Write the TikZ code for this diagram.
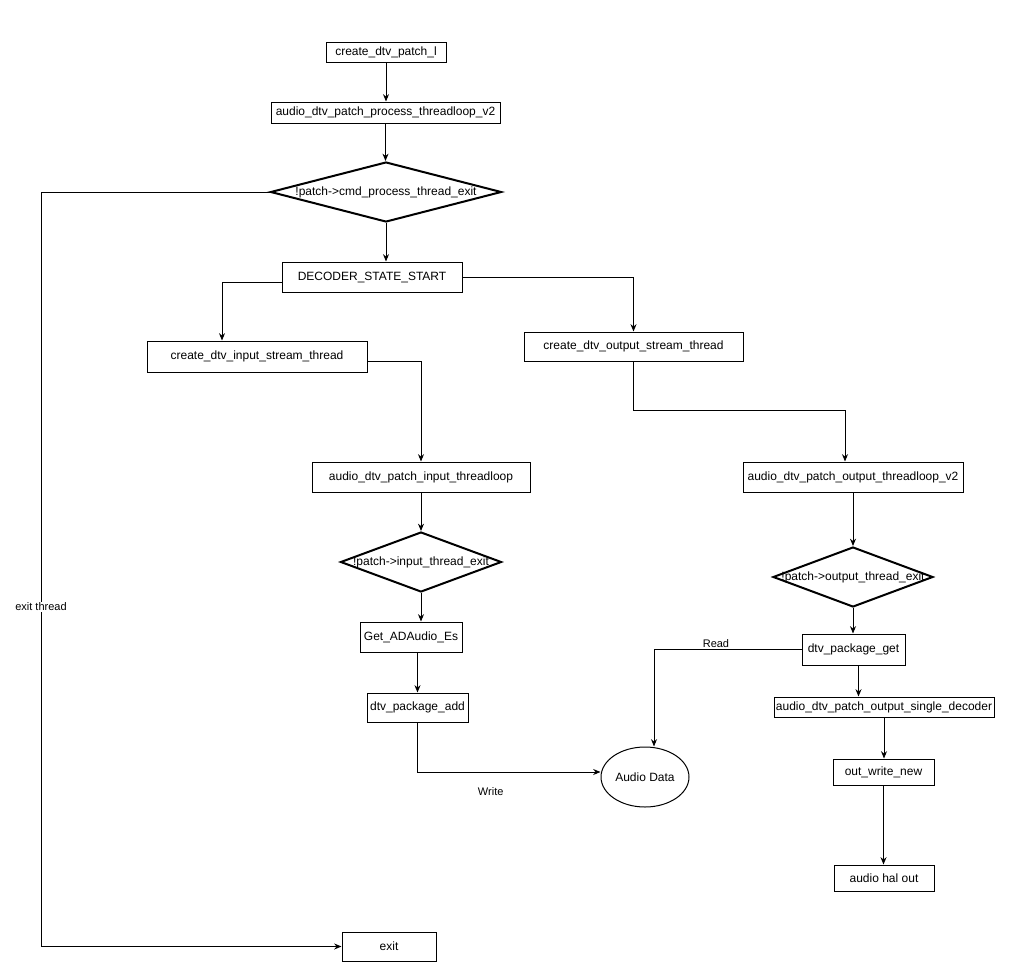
\documentclass[tikz,border=0pt]{standalone}
\usepackage{fontspec}
\setmainfont{Liberation Sans}
\usetikzlibrary{shapes.geometric,arrows.meta,positioning,calc}

\begin{document}
\begin{tikzpicture}[x=0.75pt, y=-0.75pt,
        font=\fontsize{9}{11}\selectfont,
        box/.style={draw, rectangle, line width=0.75pt, inner sep=0pt},
        decision/.style={draw, diamond, line width=1.5pt, inner sep=0pt},
        data/.style={draw, ellipse, line width=0.75pt, inner sep=0pt, minimum width=66pt, minimum height=45pt},
        arrow/.style={-{Stealth[length=5.5pt,width=4.5pt]}, line width=0.75pt},
        tag/.style={font=\fontsize{8.25}{10}\selectfont, inner sep=1pt}]
    \useasboundingbox (0,0) rectangle (1011,979);
    % main thread
    \node[box, minimum width=90pt, minimum height=15pt] (patch) at (386,52) {create\_dtv\_patch\_l};
    \node[box, minimum width=171.75pt, minimum height=15.75pt] (proc) at (385.5,112.5) {audio\_dtv\_patch\_process\_threadloop\_v2};
    \node[decision, minimum width=173.25pt, minimum height=45pt, label={center:!patch->cmd\_process\_thread\_exit}] (cmd) at (386,192) {};
    \node[box, minimum width=135pt, minimum height=22.5pt] (dec) at (372,277) {DECODER\_STATE\_START};
    \node[box, minimum width=70.5pt, minimum height=21.75pt] (exit) at (389,946.5) {exit};
    % input side
    \node[box, minimum width=165pt, minimum height=23.25pt] (instr) at (257,356.5) {create\_dtv\_input\_stream\_thread};
    \node[box, minimum width=163.5pt, minimum height=22.5pt] (itl) at (421,477) {audio\_dtv\_patch\_input\_threadloop};
    \node[decision, minimum width=120.75pt, minimum height=45pt, label={center:!patch->input\_thread\_exit}] (inexit) at (421,562) {};
    \node[box, minimum width=76.5pt, minimum height=22.5pt] (getes) at (411,637) {Get\_ADAudio\_Es};
    \node[box, minimum width=75.75pt, minimum height=21.75pt] (pkgadd) at (417.5,707.5) {dtv\_package\_add};
    \node[data] (aud) at (645,777) {Audio Data};
    % output side
    \node[box, minimum width=164.25pt, minimum height=21.75pt] (outstr) at (633.5,346.5) {create\_dtv\_output\_stream\_thread};
    \node[box, minimum width=165pt, minimum height=22.5pt] (otl) at (853,477) {audio\_dtv\_patch\_output\_threadloop\_v2};
    \node[decision, minimum width=120pt, minimum height=45pt, label={center:!patch->output\_thread\_exit}] (outexit) at (853,577) {};
    \node[box, minimum width=77.25pt, minimum height=23.25pt] (pkgget) at (853.5,649.5) {dtv\_package\_get};
    \node[box, minimum width=165pt, minimum height=15pt] (single) at (884,707) {audio\_dtv\_patch\_output\_single\_decoder};
    \node[box, minimum width=75.75pt, minimum height=19.5pt] (outw) at (883.5,772) {out\_write\_new};
    \node[box, minimum width=75pt, minimum height=19.5pt] (hal) at (884,878) {audio hal out};
    \coordinate (exitcorner) at (41,192);

    % connectors
    \draw[arrow] (patch.south) -- (patch.south |- proc.north);
    \draw[arrow] (proc.south) -- (proc.south |- cmd.north);
    \draw[arrow] (cmd.south) -- (cmd.south |- dec.north);
    \draw[arrow] (cmd.west) -- (exitcorner) |- node[tag, fill=white, pos=0.275] {exit thread} (exit.west);
    \draw[arrow] ([yshift=-3.75pt]dec.west) -| ([xshift=-26.25pt]instr.north);
    \draw[arrow] (dec.east) -| (outstr.north);
    \draw[arrow] ([yshift=-4pt]instr.east) -| (itl.north);
    \draw[arrow] (itl.south) -- (itl.south |- inexit.north);
    \draw[arrow] (inexit.south) -- (inexit.south |- getes.north);
    \draw[arrow] (pkgadd.north |- getes.south) -- (pkgadd.north);
    \draw[arrow] (pkgadd.south) |- node[tag, below=10pt, pos=0.7] {Write} ([yshift=3.75pt]aud.west);
    \draw[arrow] (outstr.south) -- ++(0,49) -| ([xshift=-6pt]otl.north);
    \draw[arrow] (otl.south) -- (otl.south |- outexit.north);
    \draw[arrow] (outexit.south) -- (outexit.south |- pkgget.north);
    \draw[arrow] (pkgget.west) -| node[tag, above, pos=0.29] {Read} ([xshift=6.75pt]aud.north);
    \draw[arrow] ([xshift=3.75pt]pkgget.south) -- ([xshift=3.75pt]pkgget.south |- single.north);
    \draw[arrow] (single.south) -- (single.south |- outw.north);
    \draw[arrow] (outw.south) -- (outw.south |- hal.north);
\end{tikzpicture}
\end{document}
